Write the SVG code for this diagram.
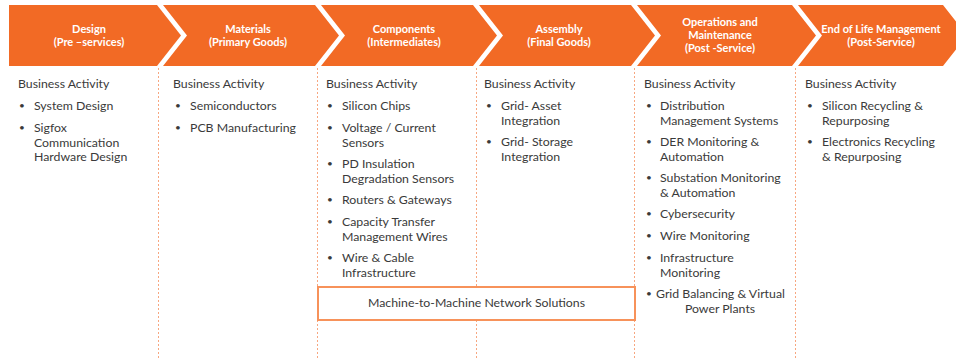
<svg xmlns="http://www.w3.org/2000/svg" width="956" height="358" viewBox="0 0 956 358">
<style>
.band{fill:#F26A25}
.hd{font-family:Lato,"Liberation Sans",sans-serif;font-weight:bold;font-size:11px;fill:#ffffff;text-anchor:middle}
.tx{font-family:Lato,"Liberation Sans",sans-serif;font-size:12.3px;fill:#3a3a3a}
.b{font-size:10px}
.sep{stroke:#F7A780;stroke-width:1;stroke-dasharray:2,2;fill:none}
.box{fill:#ffffff;stroke:#F7925A;stroke-width:2}
.c{text-anchor:middle}
</style>
<rect width="956" height="358" fill="#ffffff"/>
<g id="connectors">
<line class="sep" x1="158.5" y1="68" x2="158.5" y2="358"/>
<line class="sep" x1="317.5" y1="68" x2="317.5" y2="358"/>
<line class="sep" x1="476.5" y1="68" x2="476.5" y2="358"/>
<line class="sep" x1="634.5" y1="68" x2="634.5" y2="358"/>
<line class="sep" x1="795.5" y1="68" x2="795.5" y2="358"/>
</g>
<g id="design">
<path class="band" d="M9,5 L157,5 L181,35.5 L157,66 L9,66 Z"/>
<text class="hd" x="89" y="33">Design</text>
<text class="hd" x="89" y="46">(Pre –services)</text>
<g class="tx">
<text x="18" y="88">Business Activity</text>
<text class="b" x="19" y="109">•</text><text x="34" y="110">System Design</text>
<text class="b" x="19" y="131">•</text><text x="34" y="132">Sigfox</text>
<text x="34" y="146.5">Communication</text>
<text x="34" y="161">Hardware Design</text>
</g>
</g>
<g id="materials">
<path class="band" d="M163,5 L315,5 L339,35.5 L315,66 L163,66 L187,35.5 Z"/>
<text class="hd" x="248" y="33">Materials</text>
<text class="hd" x="248" y="46">(Primary Goods)</text>
<g class="tx">
<text x="173" y="88">Business Activity</text>
<text class="b" x="175" y="109">•</text><text x="190" y="110">Semiconductors</text>
<text class="b" x="175" y="131">•</text><text x="190" y="132">PCB Manufacturing</text>
</g>
</g>
<g id="components">
<path class="band" d="M321,5 L473,5 L497,35.5 L473,66 L321,66 L345,35.5 Z"/>
<text class="hd" x="404" y="33">Components</text>
<text class="hd" x="404" y="46">(Intermediates)</text>
<g class="tx">
<text x="326" y="88">Business Activity</text>
<text class="b" x="327" y="109">•</text><text x="342" y="110">Silicon Chips</text>
<text class="b" x="327" y="131">•</text><text x="342" y="132">Voltage / Current</text>
<text x="342" y="146.5">Sensors</text>
<text class="b" x="327" y="167">•</text><text x="342" y="168">PD Insulation</text>
<text x="342" y="182.5">Degradation Sensors</text>
<text class="b" x="327" y="203">•</text><text x="342" y="204">Routers &amp; Gateways</text>
<text class="b" x="327" y="225">•</text><text x="342" y="226">Capacity Transfer</text>
<text x="342" y="240.5">Management Wires</text>
<text class="b" x="327" y="261">•</text><text x="342" y="262">Wire &amp; Cable</text>
<text x="342" y="276.5">Infrastructure</text>
</g>
</g>
<g id="assembly">
<path class="band" d="M479,5 L631,5 L655,35.5 L631,66 L479,66 L503,35.5 Z"/>
<text class="hd" x="559" y="33">Assembly</text>
<text class="hd" x="559" y="46">(Final Goods)</text>
<g class="tx">
<text x="484" y="88">Business Activity</text>
<text class="b" x="486" y="109">•</text><text x="501" y="110">Grid- Asset</text>
<text x="501" y="124.5">Integration</text>
<text class="b" x="486" y="145">•</text><text x="501" y="146">Grid- Storage</text>
<text x="501" y="160.5">Integration</text>
</g>
</g>
<g id="operations">
<path class="band" d="M637,5 L792,5 L816,35.5 L792,66 L637,66 L661,35.5 Z"/>
<text class="hd" x="720" y="26">Operations and</text>
<text class="hd" x="720" y="39">Maintenance</text>
<text class="hd" x="720" y="52">(Post -Service)</text>
<g class="tx">
<text x="644" y="88">Business Activity</text>
<text class="b" x="646" y="109">•</text><text x="660" y="110">Distribution</text>
<text x="660" y="124.5">Management Systems</text>
<text class="b" x="646" y="145">•</text><text x="660" y="146">DER Monitoring &amp;</text>
<text x="660" y="160.5">Automation</text>
<text class="b" x="646" y="181">•</text><text x="660" y="182">Substation Monitoring</text>
<text x="660" y="196.5">&amp; Automation</text>
<text class="b" x="646" y="217">•</text><text x="660" y="218">Cybersecurity</text>
<text class="b" x="646" y="239">•</text><text x="660" y="240">Wire Monitoring</text>
<text class="b" x="646" y="261">•</text><text x="660" y="262">Infrastructure</text>
<text x="660" y="276.5">Monitoring</text>
<text class="b" x="646" y="297">•</text><text x="656" y="298">Grid Balancing &amp; Virtual</text>
<text class="c" x="720" y="312.5">Power Plants</text>
</g>
</g>
<g id="end-of-life">
<path class="band" d="M798,5 L943,5 L967,35.5 L943,66 L798,66 L822,35.5 Z"/>
<text class="hd" x="881" y="33">End of Life Management</text>
<text class="hd" x="881" y="45.5">(Post-Service)</text>
<g class="tx">
<text x="805" y="88">Business Activity</text>
<text class="b" x="807" y="109">•</text><text x="822" y="110">Silicon Recycling &amp;</text>
<text x="822" y="124.5">Repurposing</text>
<text class="b" x="807" y="145">•</text><text x="822" y="146">Electronics Recycling</text>
<text x="822" y="160.5">&amp; Repurposing</text>
</g>
</g>
<g id="m2m">
<rect class="box" x="318" y="287" width="317" height="33"/>
<text class="tx c" x="476.5" y="307">Machine-to-Machine Network Solutions</text>
</g>
</svg>
